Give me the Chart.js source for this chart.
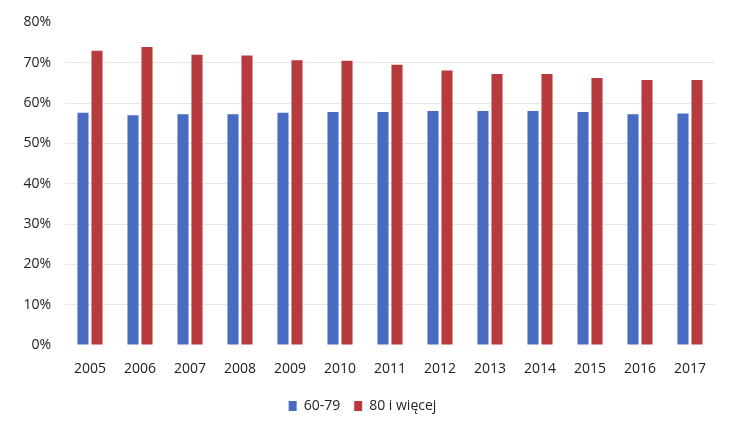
<!DOCTYPE html>
<html>
<head>
<meta charset="utf-8">
<script src="https://cdn.jsdelivr.net/npm/chart.js@4"></script>
<style>
  html, body { margin: 0; padding: 0; background: #fff; }
  #wrap { width: 731px; height: 431px; position: relative; }
</style>
</head>
<body>
<div id="wrap"><canvas id="chart" width="731" height="431"></canvas></div>
<script>
// data
const years = ['2005', '2006', '2007', '2008', '2009', '2010', '2011', '2012', '2013', '2014', '2015', '2016', '2017'];
const age6079 = [57.6, 57.0, 57.2, 57.2, 57.6, 57.8, 57.8, 58.0, 58.0, 58.0, 57.8, 57.2, 57.4];
const age80plus = [73.0, 73.9, 72.0, 71.8, 70.6, 70.5, 69.5, 68.1, 67.2, 67.2, 66.2, 65.7, 65.7];
const seriesNames = ['60-79', '80 i więcej'];

const font = "'Open Sans', 'DejaVu Sans', sans-serif";

window.onload = () => {
  const ctx = document.getElementById('chart').getContext('2d');
  new Chart(ctx, {
    type: 'bar',
    data: {
      labels: years,
      datasets: [{
        label: seriesNames[0],
        data: age6079,
        backgroundColor: '#4a6bc2',
        categoryPercentage: 0.56,
        barPercentage: 0.79
      }, {
        label: seriesNames[1],
        data: age80plus,
        backgroundColor: '#b73a3d',
        categoryPercentage: 0.56,
        barPercentage: 0.79
      }]
    },
    options: {
      responsive: false,
      animation: false,
      layout: { padding: { left: 10, right: 16, top: 12, bottom: 8 } },
      plugins: {
        tooltip: { enabled: false },
        legend: {
          position: 'bottom',
          labels: {
            font: { family: font, size: 14 },
            color: '#222',
            boxWidth: 8,
            boxHeight: 10,
            padding: 14
          }
        }
      },
      scales: {
        x: {
          grid: { display: false },
          border: { display: false },
          ticks: { font: { family: font, size: 14 }, color: '#222', padding: 8 },
          afterFit: (s) => { s.height = 40; }
        },
        y: {
          min: 0,
          max: 80,
          border: { display: false },
          grid: {
            color: (c) => c.tick.value === 80 || c.tick.value === 0 ? 'rgba(0,0,0,0)' : '#e8e8e8',
            drawTicks: false
          },
          ticks: {
            stepSize: 10,
            font: { family: font, size: 14 },
            color: '#222',
            padding: 14,
            callback: (v) => v + '%'
          },
          afterFit: (s) => { s.width = 55; }
        }
      }
    }
  });
};
</script>
</body>
</html>
